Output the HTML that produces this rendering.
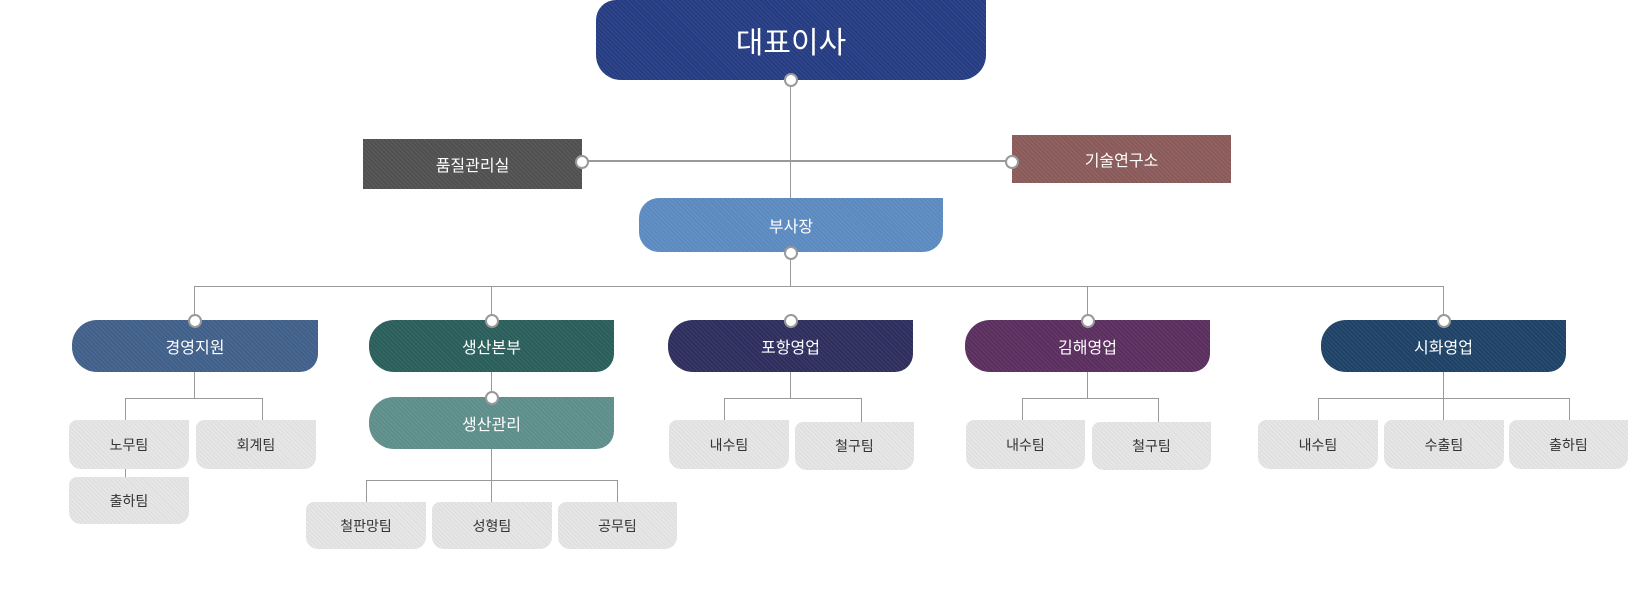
<!DOCTYPE html>
<html><head><meta charset="utf-8"><style>
body{margin:0;width:1644px;height:600px;background:#fff;position:relative;overflow:hidden;font-family:"Liberation Sans","Noto Sans CJK KR",sans-serif}
.b{position:absolute;display:flex;align-items:center;justify-content:center;color:#fff;font-size:16px;background-image:repeating-linear-gradient(45deg,rgba(255,255,255,.07) 0 1px,rgba(0,0,0,0) 1px 3px)}
.l{background-color:#e6e6e6;color:#333;font-size:14px;border-radius:8px 0 12px 12px;background-image:repeating-linear-gradient(45deg,rgba(0,0,0,.04) 0 1px,rgba(0,0,0,0) 1px 3px)}
.m{border-radius:25px 0 18px 25px}
.h{position:absolute;height:1px;background:#999}
.v{position:absolute;width:1px;background:#999}
.c{position:absolute;width:10px;height:10px;border:2px solid #999;border-radius:50%;background:#fff;z-index:3}
</style></head><body>
<!-- lines -->
<div class="v" style="left:790px;top:80px;height:206px"></div>
<div class="h" style="left:582px;top:160px;width:430px;height:2px"></div>
<div class="h" style="left:194px;top:286px;width:1250px"></div>
<div class="v" style="left:194px;top:286px;height:34px"></div>
<div class="v" style="left:491px;top:286px;height:34px"></div>
<div class="v" style="left:1087px;top:286px;height:34px"></div>
<div class="v" style="left:1443px;top:286px;height:34px"></div>
<!-- 경영 -->
<div class="v" style="left:194px;top:372px;height:26px"></div>
<div class="h" style="left:125px;top:398px;width:138px"></div>
<div class="v" style="left:125px;top:398px;height:80px"></div>
<div class="v" style="left:262px;top:398px;height:22px"></div>
<!-- 생산 -->
<div class="v" style="left:491px;top:372px;height:130px"></div>
<div class="h" style="left:366px;top:480px;width:252px"></div>
<div class="v" style="left:366px;top:480px;height:22px"></div>
<div class="v" style="left:617px;top:480px;height:22px"></div>
<!-- 포항 -->
<div class="v" style="left:790px;top:372px;height:26px"></div>
<div class="h" style="left:724px;top:398px;width:138px"></div>
<div class="v" style="left:724px;top:398px;height:22px"></div>
<div class="v" style="left:861px;top:398px;height:24px"></div>
<!-- 김해 -->
<div class="v" style="left:1087px;top:372px;height:26px"></div>
<div class="h" style="left:1022px;top:398px;width:137px"></div>
<div class="v" style="left:1022px;top:398px;height:22px"></div>
<div class="v" style="left:1158px;top:398px;height:24px"></div>
<!-- 시화 -->
<div class="v" style="left:1443px;top:372px;height:48px"></div>
<div class="h" style="left:1318px;top:398px;width:252px"></div>
<div class="v" style="left:1318px;top:398px;height:22px"></div>
<div class="v" style="left:1569px;top:398px;height:22px"></div>

<!-- boxes -->
<div class="b" style="left:596px;top:0;width:390px;height:80px;background-color:#263c82;border-radius:20px 0 25px 25px;font-size:30px">대표이사</div>
<div class="b" style="left:363px;top:139px;width:219px;height:50px;background-color:#505050">품질관리실</div>
<div class="b" style="left:1012px;top:135px;width:219px;height:48px;background-color:#8a5a5a">기술연구소</div>
<div class="b" style="left:639px;top:198px;width:304px;height:54px;background-color:#5b8ac0;border-radius:20px 0 20px 20px">부사장</div>

<div class="b m" style="left:72px;top:320px;width:246px;height:52px;background-color:#40608a">경영지원</div>
<div class="b m" style="left:369px;top:320px;width:245px;height:52px;background-color:#2a5e5a">생산본부</div>
<div class="b m" style="left:668px;top:320px;width:245px;height:52px;background-color:#2e2e5e">포항영업</div>
<div class="b m" style="left:965px;top:320px;width:245px;height:52px;background-color:#5a2e5e">김해영업</div>
<div class="b m" style="left:1321px;top:320px;width:245px;height:52px;background-color:#1e4266">시화영업</div>
<div class="b m" style="left:369px;top:397px;width:245px;height:52px;background-color:#5e8e8a">생산관리</div>

<div class="b l" style="left:69px;top:420px;width:120px;height:49px">노무팀</div>
<div class="b l" style="left:196px;top:420px;width:120px;height:49px">회계팀</div>
<div class="b l" style="left:69px;top:477px;width:120px;height:47px">출하팀</div>
<div class="b l" style="left:306px;top:502px;width:120px;height:47px">철판망팀</div>
<div class="b l" style="left:432px;top:502px;width:120px;height:47px">성형팀</div>
<div class="b l" style="left:558px;top:502px;width:119px;height:47px">공무팀</div>
<div class="b l" style="left:669px;top:420px;width:120px;height:49px">내수팀</div>
<div class="b l" style="left:795px;top:422px;width:119px;height:48px">철구팀</div>
<div class="b l" style="left:966px;top:420px;width:119px;height:49px">내수팀</div>
<div class="b l" style="left:1092px;top:422px;width:119px;height:48px">철구팀</div>
<div class="b l" style="left:1258px;top:420px;width:120px;height:49px">내수팀</div>
<div class="b l" style="left:1384px;top:420px;width:120px;height:49px">수출팀</div>
<div class="b l" style="left:1509px;top:420px;width:119px;height:49px">출하팀</div>

<!-- circles -->
<div class="c" style="left:784px;top:73px"></div>
<div class="c" style="left:575px;top:155px"></div>
<div class="c" style="left:1005px;top:155px"></div>
<div class="c" style="left:784px;top:246px"></div>
<div class="c" style="left:188px;top:314px"></div>
<div class="c" style="left:485px;top:314px"></div>
<div class="c" style="left:784px;top:314px"></div>
<div class="c" style="left:1081px;top:314px"></div>
<div class="c" style="left:1437px;top:314px"></div>
<div class="c" style="left:485px;top:391px"></div>
</body></html>
